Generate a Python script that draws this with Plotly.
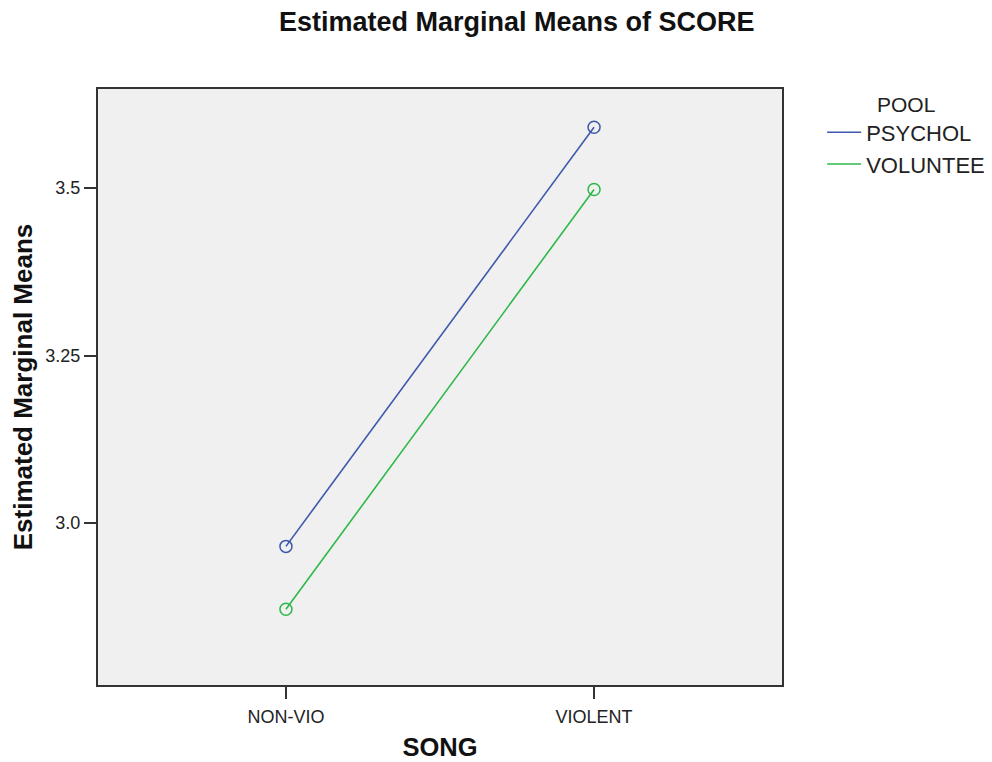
import plotly.graph_objects as go

categories = ["NON-VIO", "VIOLENT"]
psychol = [2.965, 3.591]
voluntee = [2.871, 3.498]
series_names = ["PSYCHOL", "VOLUNTEE"]
colors = ["#3e58ac", "#2eb848"]
y_ticks = [3.0, 3.25, 3.5]
y_tick_labels = ["3.0", "3.25", "3.5"]

x_idx = list(range(len(categories)))
FONT = "Liberation Sans, Arial, sans-serif"

fig = go.Figure()
for i, (name, vals) in enumerate(zip(series_names, [psychol, voluntee])):
    fig.add_trace(go.Scatter(
        x=x_idx, y=vals, mode="lines+markers", name=name,
        line=dict(color=colors[i], width=1.6),
        marker=dict(symbol="circle-open", size=12, color=colors[i],
                    line=dict(width=1.5, color=colors[i])),
        showlegend=False, hoverinfo="x+y+name",
    ))
for i, name in enumerate(series_names):
    fig.add_trace(go.Scatter(
        x=[None], y=[None], mode="lines", name=name,
        line=dict(color=colors[i], width=1.5),
        legendgroup=name, showlegend=True,
    ))

fig.update_layout(
    width=984, height=754,
    margin=dict(l=90, r=210, t=81, b=77, autoexpand=False),
    paper_bgcolor="white", plot_bgcolor="#f0f0f0",
    font=dict(family=FONT, size=18, color="#222222"),
    title=dict(text="<b>Estimated Marginal Means of SCORE</b>",
               x=0.517, xanchor="center", y=0.982, yanchor="middle",
               font=dict(family=FONT, size=27, color="#111111")),
    xaxis=dict(
        range=[-0.61, 1.61], tickmode="array", tickvals=x_idx, ticktext=categories,
        showgrid=False, zeroline=False, showline=True, linecolor="#333333", linewidth=2,
        mirror=True, ticks="outside", ticklen=12, tickwidth=1.5, tickcolor="#333333",
        ticklabelstandoff=2, automargin=False,
        tickfont=dict(family=FONT, size=18, color="#222222"),
        title=dict(text="<b>SONG</b>", font=dict(family=FONT, size=25.5, color="#111111"),
                   standoff=13),
    ),
    yaxis=dict(
        range=[2.758, 3.648], tickmode="array", tickvals=y_ticks, ticktext=y_tick_labels,
        showgrid=False, zeroline=False, showline=True, linecolor="#333333", linewidth=2,
        mirror=True, ticks="outside", ticklen=12, tickwidth=1.5, tickcolor="#333333",
        automargin=False,
        tickfont=dict(family=FONT, size=18, color="#222222"),
        title=dict(text="<b>Estimated Marginal Means</b>",
                   font=dict(family=FONT, size=26, color="#111111"), standoff=5),
    ),
    legend=dict(
        x=1.0587, xanchor="left", y=1.008, yanchor="top", xref="paper", yref="paper",
        bgcolor="rgba(0,0,0,0)", borderwidth=0, itemwidth=34,
        font=dict(family=FONT, size=22, color="#222222"),
        title=dict(text="POOL", side="top center", font=dict(family=FONT, size=21, color="#222222")),
        tracegroupgap=0,
    ),
)

fig.write_html("out.html")
